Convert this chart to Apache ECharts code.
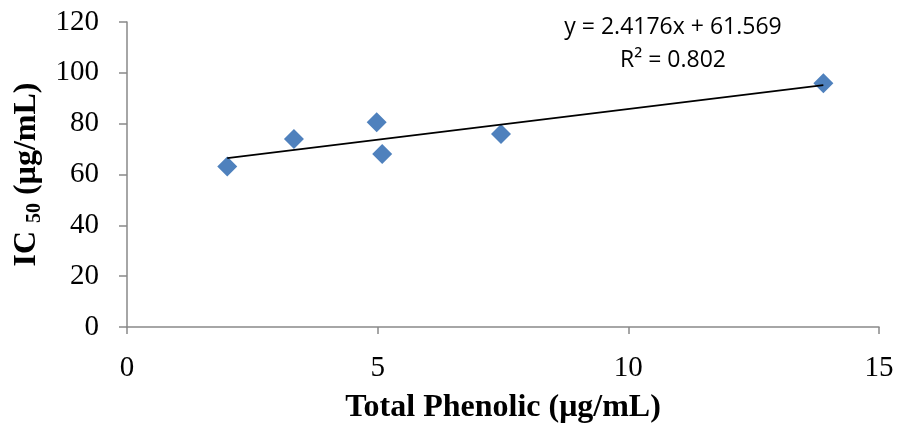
<!DOCTYPE html>
<html><head><meta charset="utf-8">
<script src="https://cdn.jsdelivr.net/npm/echarts@6/dist/echarts.min.js"></script>
<style>html,body{margin:0;padding:0;background:#fff}#c{width:899px;height:434px}</style>
</head><body><div id="c"></div>
<script>
var xValues = [2.0, 3.33, 4.98, 5.09, 7.46, 13.89];
var yValues = [63.1, 74.0, 80.6, 68.1, 75.9, 95.9];
var trendSlope = [2.4176];
var trendIntercept = [61.569];
var equationText = ['y = 2.4176x + 61.569', 'R² = 0.802'];
var xTicks = [0, 5, 10, 15];
var yTicks = [0, 20, 40, 60, 80, 100, 120];

var pts = xValues.map(function(x, i){ return [x, yValues[i]]; });
var xmin = Math.min.apply(null, xValues), xmax = Math.max.apply(null, xValues);
var trend = [[xmin, trendSlope[0]*xmin + trendIntercept[0]], [xmax, trendSlope[0]*xmax + trendIntercept[0]]];

var chart = echarts.init(document.getElementById('c'), null, {renderer:'canvas'});
var axisLineStyle = {color:'#898989', width:1.5};
chart.setOption({
  animation:false,
  grid:{left:127, right:20, top:22, bottom:107},
  xAxis:{
    type:'value', min:xTicks[0], max:xTicks[xTicks.length-1], interval:5,
    axisLine:{show:true, onZero:false, lineStyle:axisLineStyle},
    axisTick:{show:true, length:7, lineStyle:axisLineStyle},
    splitLine:{show:false},
    axisLabel:{fontFamily:'Liberation Serif', fontSize:29, color:'#000', margin:27},
    name:'Total Phenolic (μg/mL)', nameLocation:'middle', nameGap:65,
    nameTextStyle:{fontFamily:'Liberation Serif', fontWeight:'bold', fontSize:32, color:'#000'}
  },
  yAxis:{
    type:'value', min:yTicks[0], max:yTicks[yTicks.length-1], interval:20,
    axisLine:{show:true, lineStyle:axisLineStyle},
    axisTick:{show:true, length:8, lineStyle:axisLineStyle},
    splitLine:{show:false},
    axisLabel:{fontFamily:'Liberation Serif', fontSize:29, color:'#000', margin:28},
    name:'IC {sub|50} (μg/mL)', nameLocation:'middle', nameGap:82, nameRotate:90,
    nameTextStyle:{fontFamily:'Liberation Serif', fontWeight:'bold', fontSize:32, color:'#000',
      rich:{sub:{fontFamily:'Liberation Serif', fontWeight:'bold', fontSize:20, color:'#000', padding:[16,0,0,0]}}}
  },
  series:[
    {type:'line', data:trend, symbol:'none', lineStyle:{color:'#000', width:1.8}, z:3},
    {type:'scatter', data:pts, symbol:'diamond', symbolSize:[20,20], itemStyle:{color:'#4F81BD', opacity:1}, z:2}
  ],
  graphic:[
    {type:'text', x:673, y:27, style:{text:equationText[0], font:'23px "Open Sans"', fill:'#000', align:'center', verticalAlign:'middle'}},
    {type:'text', x:673, y:60, style:{text:equationText[1], font:'23px "Open Sans"', fill:'#000', align:'center', verticalAlign:'middle'}}
  ]
});
</script></body></html>
